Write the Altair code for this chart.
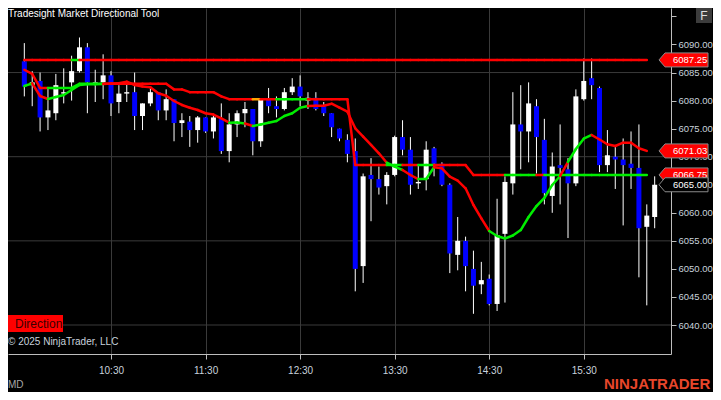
import altair as alt
import pandas as pd

# ---------------- data ----------------
START_MIN = 575          # first bar 9:35 (minutes after midnight)
BAR_MIN = 5

OPEN = [6087.0, 6082.75, 6083.5, 6077.0, 6077.75, 6081.25, 6083.25, 6085.25, 6089.5, 6083.0,
        6083.25, 6084.5, 6079.75, 6081.25, 6081.5, 6077.25, 6079.5, 6081.5, 6078.25, 6080.25,
        6076.0, 6076.25, 6074.75, 6077.0, 6074.5, 6076.75, 6071.0, 6075.75, 6077.75, 6078.5,
        6072.75, 6080.25, 6079.0, 6078.5, 6081.5, 6082.5, 6080.0, 6080.5, 6079.0, 6077.75,
        6075.0, 6073.0, 6071.0, 6050.5, 6066.75, 6066.0, 6064.75, 6066.75, 6073.5, 6071.25,
        6065.25, 6066.0, 6071.5, 6068.75, 6065.0, 6052.5, 6055.0, 6050.0, 6047.25, 6048.25,
        6043.75, 6056.25, 6065.25, 6075.75, 6074.5, 6079.0, 6073.0, 6063.0, 6068.5, 6067.75,
        6065.25, 6080.25, 6084.0, 6082.25, 6068.5, 6070.0, 6069.5, 6068.75, 6068.0, 6057.5,
        6059.25]
HIGH = [6090.25, 6085.25, 6085.0, 6082.25, 6084.75, 6085.75, 6088.0, 6091.25, 6090.25, 6085.5,
        6088.25, 6085.25, 6082.75, 6083.25, 6085.0, 6079.5, 6082.5, 6081.5, 6082.0, 6080.25,
        6077.75, 6077.25, 6077.25, 6077.0, 6077.5, 6079.5, 6077.75, 6078.25, 6079.75, 6078.5,
        6080.25, 6082.25, 6080.75, 6082.25, 6084.0, 6084.5, 6081.5, 6081.5, 6079.75, 6077.75,
        6075.0, 6074.0, 6073.25, 6067.0, 6069.75, 6068.25, 6067.25, 6073.75, 6076.5, 6073.5,
        6068.5, 6072.75, 6071.75, 6069.0, 6065.25, 6059.25, 6055.75, 6053.25, 6051.25, 6049.0,
        6062.5, 6066.5, 6081.5, 6082.75, 6083.25, 6080.25, 6076.75, 6070.75, 6075.75, 6069.75,
        6082.0, 6087.5, 6087.5, 6082.5, 6074.75, 6071.75, 6073.25, 6074.5, 6075.75, 6061.5,
        6066.5]
LOW = [6080.75, 6079.0, 6074.5, 6074.75, 6076.5, 6079.5, 6080.0, 6085.0, 6077.75, 6079.75,
       6080.25, 6077.25, 6077.75, 6079.75, 6074.75, 6074.75, 6079.0, 6076.5, 6076.5, 6072.75,
       6073.5, 6071.75, 6072.5, 6074.25, 6073.25, 6070.5, 6069.0, 6073.5, 6075.25, 6070.25,
       6071.75, 6077.75, 6077.0, 6078.25, 6081.0, 6079.0, 6078.5, 6078.25, 6077.25, 6073.5,
       6072.75, 6069.0, 6046.0, 6047.5, 6058.5, 6063.25, 6061.5, 6066.5, 6070.25, 6063.25,
       6064.25, 6064.0, 6066.5, 6064.75, 6049.25, 6049.75, 6046.0, 6042.0, 6045.5, 6043.5,
       6042.5, 6044.0, 6063.25, 6067.75, 6069.0, 6067.0, 6061.5, 6060.0, 6061.5, 6055.5,
       6064.75, 6080.0, 6080.25, 6067.25, 6067.25, 6064.25, 6057.75, 6064.25, 6048.5, 6043.5,
       6057.25]
CLOSE = [6082.5, 6083.25, 6077.0, 6078.25, 6082.75, 6081.5, 6085.25, 6089.5, 6083.25, 6083.25,
         6084.5, 6079.5, 6081.25, 6081.5, 6077.25, 6079.5, 6081.5, 6078.25, 6080.25, 6076.0,
         6076.5, 6074.75, 6077.0, 6074.5, 6077.0, 6071.0, 6075.75, 6077.75, 6078.5, 6072.75,
         6080.25, 6079.0, 6078.5, 6081.5, 6082.5, 6080.75, 6080.5, 6078.5, 6077.75, 6075.25,
         6073.25, 6070.5, 6050.0, 6066.5, 6066.0, 6064.5, 6066.75, 6073.5, 6071.25, 6065.0,
         6065.5, 6071.25, 6068.75, 6065.0, 6052.75, 6055.0, 6050.5, 6047.0, 6048.0, 6043.75,
         6056.0, 6065.5, 6075.75, 6074.5, 6079.5, 6073.5, 6063.5, 6068.25, 6068.0, 6065.25,
         6080.75, 6083.5, 6082.75, 6068.5, 6070.25, 6069.5, 6068.5, 6068.0, 6057.25, 6059.5,
         6065.0]

# indicator lines (one value per bar, bars 0..79)
LEVEL_TOP = 6087.25
LEVEL_STEP = ([6085.5, 6084.75] + [6082.25] * 5 + [6083.0] * 12 + [6082.0] * 2 +
              [6081.5] * 4 + [6080.75] + [6080.25] * 16 + [6068.5] * 15 + [6066.75] * 23)
SMOOTH = [6082.6, 6083.08, 6080.82, 6080.29, 6080.64, 6081.0, 6081.89, 6082.78, 6082.9, 6082.9,
          6082.96, 6083.04, 6083.08, 6083.37, 6082.78, 6082.51, 6082.37, 6081.3, 6080.87, 6079.93,
          6079.22, 6078.73, 6078.32, 6077.74, 6077.52, 6076.84, 6076.06, 6076.1, 6075.92, 6075.47,
          6075.74, 6076.06, 6076.36, 6077.25, 6077.74, 6078.73, 6079.04, 6079.07, 6079.09, 6079.45,
          6078.73, 6078.02, 6075.06, 6073.57, 6072.09, 6070.61, 6068.93, 6068.22, 6067.63, 6066.74,
          6066.02, 6066.02, 6068.11, 6067.93, 6066.44, 6065.72, 6064.37, 6061.39, 6059.02, 6056.76,
          6055.86, 6055.42, 6055.95, 6056.93, 6059.25, 6061.21, 6062.64, 6064.96, 6066.56, 6069.06,
          6071.37, 6073.21, 6073.87, 6073.07, 6072.21, 6071.91, 6072.5, 6072.5, 6071.5, 6071.03]

# colour runs (segment index from, to-exclusive, state)
TOP_RUNS = [(0, 6, "R"), (6, 7, "G"), (7, 79, "R")]
STEP_RUNS = [(0, 3, "R"), (3, 10, "G"), (10, 29, "R"), (29, 30, "O"), (30, 32, "R"), (32, 36, "G"),
             (36, 46, "R"), (46, 48, "G"), (48, 50, "R"), (50, 52, "G"), (52, 61, "R"), (61, 65, "G"),
             (65, 66, "R"), (66, 79, "G")]
SMOOTH_RUNS = [(0, 1, "G"), (1, 3, "R"), (3, 10, "G"), (10, 26, "R"), (26, 28, "G"), (28, 29, "R"),
               (29, 36, "G"), (36, 46, "R"), (46, 48, "G"), (48, 50, "R"), (50, 52, "G"), (52, 59, "R"),
               (59, 68, "G"), (68, 69, "R"), (69, 72, "G"), (72, 79, "R")]
STATE_COLORS = {"R": "#ff0000", "G": "#00ee00", "O": "#ffa500"}

HOUR_TICKS = [630, 690, 750, 810, 870, 930]
PRICE_TICKS = [6040, 6045, 6050, 6055, 6060, 6065, 6070, 6075, 6080, 6085, 6090, 6095]
GRID_PRICES = [6085, 6070, 6055, 6040]

FLAG_PRICES = [6087.25, 6071.03, 6066.75, 6065.00]
FLAG_LABELS = ["6087.25", "6071.03", "6066.75", "6065.00"]
FLAG_FILLS = ["#ff0000", "#ff0000", "#ff0000", "#000000"]

X_DOMAIN = [567.8125, 982.1875]
Y_DOMAIN = [6034.831, 6096.506]

FONT = "Liberation Sans"
AXIS_COL = "#bdbdbd"
LABEL_COL = "#c8d2dc"
GRID_COL = "#3a3a3a"

# ---------------- tables ----------------
times = [START_MIN + BAR_MIN * i for i in range(len(OPEN))]
bars = pd.DataFrame({"t": times, "open": OPEN, "high": HIGH, "low": LOW, "close": CLOSE})
bars["dir"] = ["up" if c >= o else "down" for o, c in zip(OPEN, CLOSE)]


def segments(values, runs):
    rows = []
    for a, b, s in runs:
        for k in range(a, b):
            rows.append({"t": times[k], "t2": times[k + 1], "v": values[k], "v2": values[k + 1],
                         "c": STATE_COLORS[s]})
    return rows


seg_df = pd.DataFrame(segments([LEVEL_TOP] * 80, TOP_RUNS) +
                      segments(LEVEL_STEP, STEP_RUNS) +
                      segments(SMOOTH, SMOOTH_RUNS))

flags = pd.DataFrame({"p": FLAG_PRICES, "label": FLAG_LABELS, "fill": FLAG_FILLS})

xs = alt.Scale(domain=X_DOMAIN, nice=False, zero=False)
ys = alt.Scale(domain=Y_DOMAIN, nice=False, zero=False)

x_axis = alt.Axis(values=HOUR_TICKS, title=None, grid=True, gridColor=GRID_COL, gridWidth=1,
                  labelExpr="floor(datum.value/60) + ':' + (datum.value % 60 < 10 ? '0' : '') + (datum.value % 60)",
                  tickColor=AXIS_COL, tickSize=5, domainColor=AXIS_COL, labelColor=LABEL_COL,
                  labelFont=FONT, labelFontSize=10, labelPadding=6, zindex=0)
y_axis = alt.Axis(values=PRICE_TICKS, orient="right", title=None, grid=False,
                  labelExpr="datum.value > 6092 ? '' : format(datum.value, '.2f')",
                  tickColor=AXIS_COL, tickSize=5, domainColor=AXIS_COL, labelColor=LABEL_COL,
                  labelFont=FONT, labelFontSize=9.5, labelPadding=2, zindex=0)


def X(field, **kw):
    return alt.X(field, scale=xs, axis=x_axis, **kw)


def Y(field, **kw):
    return alt.Y(field, scale=ys, axis=y_axis, **kw)


grid_h = alt.Chart(pd.DataFrame({"p": GRID_PRICES})).mark_rule(color=GRID_COL, strokeWidth=1).encode(
    y=Y("p:Q"))

wicks = alt.Chart(bars).mark_rule(color="#ffffff", strokeWidth=1).encode(
    x=X("t:Q"), y=Y("low:Q"), y2="high:Q")

bodies = alt.Chart(bars).mark_bar(width=5).encode(
    x=X("t:Q"), y=Y("open:Q"), y2="close:Q",
    color=alt.Color("dir:N", scale=alt.Scale(domain=["up", "down"], range=["#ffffff", "#0000ff"]),
                    legend=None))

lines = alt.Chart(seg_df).mark_rule(strokeWidth=2.5, strokeCap="round").encode(
    x=X("t:Q"), x2="t2:Q", y=Y("v:Q"), y2="v2:Q",
    color=alt.Color("c:N", scale=None))

FLAG_PATH = "M-7,0L-1,-7L42,-7L42,7L-1,7Z"


def flag_layers(df):
    pts = alt.Chart(df).mark_point(shape=FLAG_PATH, size=4, filled=True, opacity=1,
                                   stroke="#8a8a8a", strokeWidth=1).encode(
        x=alt.X(datum=X_DOMAIN[1], type="quantitative", scale=xs, axis=x_axis),
        y=Y("p:Q"),
        fill=alt.Fill("fill:N", scale=None))
    txt = alt.Chart(df).mark_text(align="left", baseline="middle", dx=7, fontSize=9.5, font=FONT,
                                  color="#ffffff").encode(
        x=alt.X(datum=X_DOMAIN[1], type="quantitative", scale=xs, axis=x_axis),
        y=Y("p:Q"),
        text="label:N")
    return [pts, txt]


def deco_text(txt, x, y, **kw):
    return alt.Chart(pd.DataFrame({"s": [txt]})).mark_text(font=FONT, **kw).encode(
        x=alt.value(x), y=alt.value(y), text="s:N")


def deco_rect(x, x2, y, y2, fill):
    return alt.Chart(pd.DataFrame({"s": [0]})).mark_rect(color=fill).encode(
        x=alt.value(x), x2=alt.value(x2), y=alt.value(y), y2=alt.value(y2))


layers = [grid_h, wicks, bodies, lines]
layers += flag_layers(flags.iloc[:3])
layers += flag_layers(flags.iloc[3:])
layers += [
    deco_text("Tradesight Market Directional Tool", 0, 9, align="left", baseline="alphabetic",
              fontSize=10, color="#ffffff"),
    deco_rect(0, 55, 307, 324, "#ff0000"),
    deco_text("Direction", 7, 316, align="left", baseline="middle", fontSize=12, color="#3a0000"),
    deco_text("\u00a9 2025 NinjaTrader, LLC", 0, 334, align="left", baseline="middle",
              fontSize=10, color=LABEL_COL),
    deco_text("MD", 0, 377, align="left", baseline="middle", fontSize=10, color="#a8a8a8"),
    deco_text("NINJATRADER", 596, 376, align="left", baseline="middle", fontSize=15,
              fontWeight="bold", color="#e8462b"),
    deco_rect(688, 704, 0, 15, "#3c3c3c"),
    deco_text("F", 696, 8, align="center", baseline="middle", fontSize=12, color="#e0e0e0"),
]

chart = alt.layer(*layers).properties(
    width=663, height=346, background="#000000",
    padding={"left": 0, "top": 0, "right": 42, "bottom": 38},
    autosize=alt.AutoSizeParams(type="none"),
).configure_view(strokeWidth=0)

chart.save("out.html", embed_options={"renderer": "svg", "actions": False})
